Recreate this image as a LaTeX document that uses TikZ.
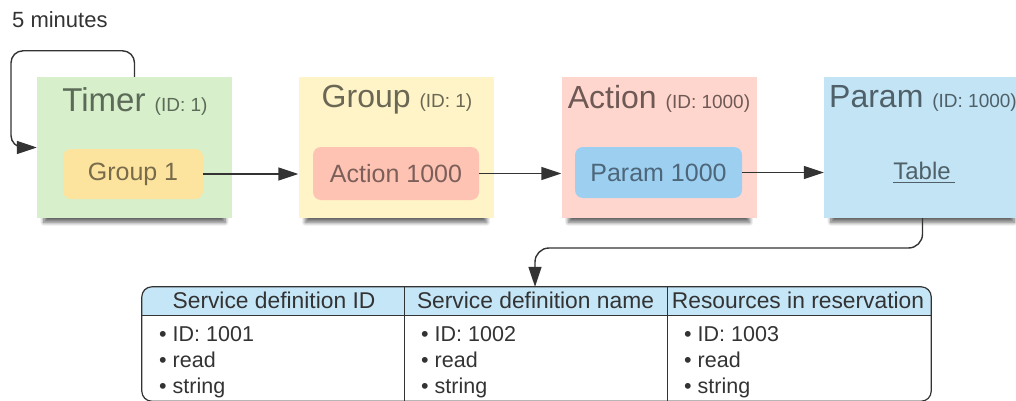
\documentclass[tikz,border=0pt]{standalone}
\usepackage{fontspec}
\setmainfont{Liberation Sans}
\usetikzlibrary{arrows.meta,shadows.blur}

\definecolor{timerbg}{HTML}{D7EFCA}
\definecolor{groupbg}{HTML}{FFF3C8}
\definecolor{actionbg}{HTML}{FFD6CE}
\definecolor{parambg}{HTML}{C2E4F5}
\definecolor{gonefill}{HTML}{FDE49E}
\definecolor{aonefill}{HTML}{FFC3B4}
\definecolor{ponefill}{HTML}{9DCFF0}
\definecolor{hdrfill}{HTML}{C5E6F7}
\definecolor{linecol}{HTML}{333333}
\definecolor{timertxt}{HTML}{5B6B58}
\definecolor{grouptxt}{HTML}{6A6854}
\definecolor{actiontxt}{HTML}{6E5955}
\definecolor{paramtxt}{HTML}{4F6068}
\definecolor{gonetxt}{HTML}{776B4B}
\definecolor{aonetxt}{HTML}{7C5F59}
\definecolor{ponetxt}{HTML}{4D6679}

\newcommand{\fs}[1]{\fontsize{#1}{#1}\selectfont}

\tikzset{
  bigbox/.style={draw=none, minimum width=195pt, minimum height=141pt,
    blur shadow={shadow xshift=0pt, shadow yshift=-10pt, shadow scale=0.93,
      shadow blur radius=4pt, shadow blur steps=8, shadow opacity=60}},
  title/.style={anchor=base, inner sep=0pt},
  innerbox/.style={draw=none, rounded corners=8pt, inner sep=0pt, font=\fs{25}},
  conn/.style={draw=linecol, line width=1.4pt},
  arr/.style={conn, -{Triangle[length=20pt, width=13pt]}},
  cell/.style={anchor=base, inner sep=0pt, text=linecol},
  item/.style={anchor=base west, inner sep=0pt, text=linecol, font=\fs{21.5}},
}

\begin{document}
\begin{tikzpicture}[x=1pt, y=-1pt]
\useasboundingbox (0,0) rectangle (1016,401);

% stage boxes
\node[bigbox, fill=timerbg] (timer) at (134.5,147.5) {};
\node[bigbox, fill=groupbg] (group) at (396,147.5) {};
\node[bigbox, fill=actionbg] (action) at (659,147.5) {};
\node[bigbox, fill=parambg, minimum width=197pt] (param) at (922.5,147.5) {};

% stage titles
\node[title, text=timertxt] (timerT) at (135,112) {\fs{33}Timer \fs{19}(ID: 1)};
\node[title, text=grouptxt] (groupT) at (397,108) {\fs{32}Group \fs{19}(ID: 1)};
\node[title, text=actiontxt] (actionT) at (659,109) {\fs{32}Action \fs{19}(ID: 1000)};
\node[title, text=paramtxt] (paramT) at (923,108) {\fs{32}Param \fs{19}(ID: 1000)};

% references held by each stage
\node[innerbox, fill=gonefill, text=gonetxt, minimum width=140pt, minimum height=50pt] (gone) at (133,174) {Group 1};
\node[innerbox, fill=aonefill, text=aonetxt, minimum width=166pt, minimum height=53pt] (aone) at (396,173.5) {Action 1000};
\node[innerbox, fill=ponefill, text=ponetxt, minimum width=167pt, minimum height=51pt] (pone) at (658.5,172.5) {Param 1000};
\node[anchor=base, inner sep=0pt, text=paramtxt, font=\fs{24}] (tabletxt) at (924,179) {Table\kern4pt};
\draw[paramtxt, line width=1.3pt] ([yshift=-3.5pt]tabletxt.base west) -- ([yshift=-3.5pt]tabletxt.base east);

% timer period
\node[anchor=base west, inner sep=0pt, text=linecol, font=\fs{22}] (period) at (12,28) {5 minutes};

% connectors
\draw[arr, rounded corners=12pt] (timer.north) -- ++(0,-26) -- ++(-123.5,0) |- (timer.west);
\draw[arr] (gone.east) -- (gone.east -| group.west);
\draw[arr] (aone.east) -- (aone.east -| action.west);
\draw[arr] (pone.east) -- (pone.east -| param.west);

% parameter table
\node[draw=none, minimum width=789pt, minimum height=114pt, inner sep=0pt] (tbl) at (536.5,344) {};
\begin{scope}
  \clip[rounded corners=10pt] (tbl.north west) rectangle (tbl.south east);
  \fill[hdrfill] (tbl.north west) rectangle ([yshift=-29pt]tbl.north east);
\end{scope}
\draw[linecol, line width=1.2pt, rounded corners=10pt] (tbl.north west) rectangle (tbl.south east);
\draw[linecol, line width=1pt] ([yshift=-29pt]tbl.north west) -- ([yshift=-29pt]tbl.north east);
\draw[linecol, line width=1pt] (404,287) -- (404,401);
\draw[linecol, line width=1pt] (667,287) -- (667,401);

\draw[arr, rounded corners=14pt] (param.south) |- (535,248) -- (tbl.north -| 535,0);

% header cells
\node[cell, font=\fs{22.8}] (h1) at (274,308) {Service definition ID};
\node[cell, font=\fs{22.8}] (h2) at (535.5,308) {Service definition name};
\node[cell, font=\fs{22.8}] (h3) at (798,308) {Resources in reservation};

% body cells
\foreach \cx/\id in {159/1001, 421/1002, 684/1003} {
  \node[item] at (\cx,341) {•\hspace{6pt}ID: \id};
  \node[item] at (\cx,367) {•\hspace{6pt}read};
  \node[item] at (\cx,393) {•\hspace{6pt}string};
}
\end{tikzpicture}
\end{document}
